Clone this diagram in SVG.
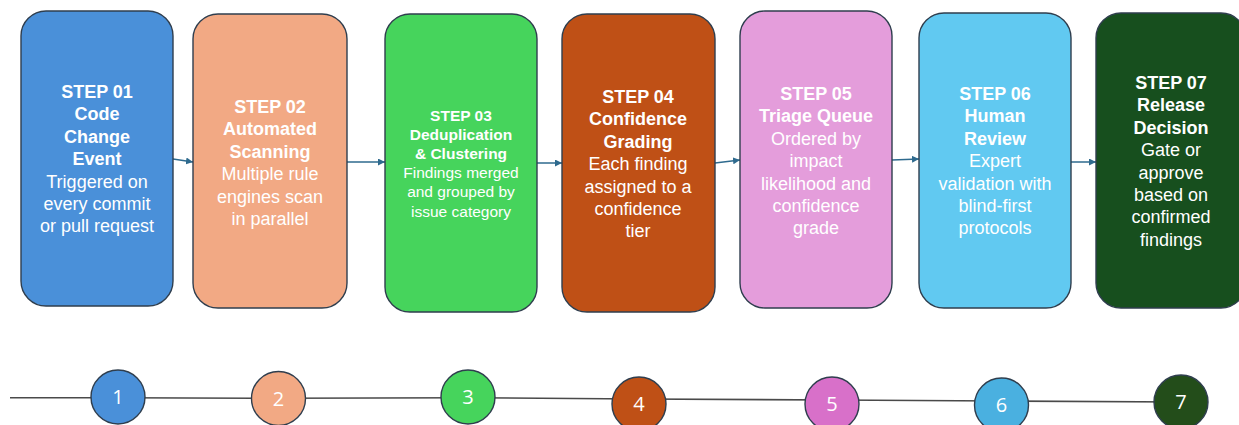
<svg xmlns="http://www.w3.org/2000/svg" width="1239" height="425" viewBox="0 0 1239 425">
<style>
.box{stroke:#2F3E4E;stroke-width:1.4}
.t{font-family:"Liberation Sans",Arial,sans-serif;font-size:18px;fill:#ffffff;text-anchor:middle}
.s{font-size:15.5px}
.b{font-weight:bold}
.conn{stroke:#2E6A8E;stroke-width:1.5;fill:none}
.tl{stroke:#4a4a4a;stroke-width:1.6;fill:none}
.c{stroke:#2F3E4E;stroke-width:1.4}
.n{font-family:"Open Sans","Liberation Sans",sans-serif;font-size:20px;fill:#ffffff;text-anchor:middle}
</style>
<defs>
<marker id="ah" viewBox="0 0 10 10" refX="10" refY="5" markerWidth="7" markerHeight="7" markerUnits="userSpaceOnUse" orient="auto">
<path d="M0,0 L10,5 L0,10 z" fill="#2E6A8E"/>
</marker>
</defs>
<rect width="1239" height="425" fill="#ffffff"/>

<g id="connectors">
<line class="conn" x1="173" y1="159" x2="193" y2="162" marker-end="url(#ah)"/>
<line class="conn" x1="347" y1="162" x2="385" y2="162" marker-end="url(#ah)"/>
<line class="conn" x1="537" y1="163" x2="562" y2="163" marker-end="url(#ah)"/>
<line class="conn" x1="715" y1="163" x2="740" y2="160" marker-end="url(#ah)"/>
<line class="conn" x1="892" y1="160" x2="919" y2="159" marker-end="url(#ah)"/>
<line class="conn" x1="1071" y1="162" x2="1096" y2="162" marker-end="url(#ah)"/>
</g>

<g id="step1">
<rect class="box" x="21" y="11" width="152" height="295" rx="25" fill="#4A90D9"/>
<text class="t" x="97" y="98"><tspan class="b" x="97">STEP 01</tspan><tspan class="b" x="97" dy="22.4">Code</tspan><tspan class="b" x="97" dy="22.4">Change</tspan><tspan class="b" x="97" dy="22.4">Event</tspan><tspan x="97" dy="22.4">Triggered on</tspan><tspan x="97" dy="22.4">every commit</tspan><tspan x="97" dy="22.4">or pull request</tspan></text>
</g>

<g id="step2">
<rect class="box" x="193" y="14" width="154" height="294" rx="25" fill="#F2A984"/>
<text class="t" x="270" y="113"><tspan class="b" x="270">STEP 02</tspan><tspan class="b" x="270" dy="22.4">Automated</tspan><tspan class="b" x="270" dy="22.4">Scanning</tspan><tspan x="270" dy="22.4">Multiple rule</tspan><tspan x="270" dy="22.4">engines scan</tspan><tspan x="270" dy="22.4">in parallel</tspan></text>
</g>

<g id="step3">
<rect class="box" x="385" y="14" width="152" height="298" rx="25" fill="#46D45C"/>
<text class="t s" x="461" y="120.5"><tspan class="b" x="461">STEP 03</tspan><tspan class="b" x="461" dy="19.2">Deduplication</tspan><tspan class="b" x="461" dy="19.2">&amp; Clustering</tspan><tspan x="461" dy="19.2">Findings merged</tspan><tspan x="461" dy="19.2">and grouped by</tspan><tspan x="461" dy="19.2">issue category</tspan></text>
</g>

<g id="step4">
<rect class="box" x="562" y="14" width="153" height="298" rx="25" fill="#BF5016"/>
<text class="t" x="638" y="103"><tspan class="b" x="638">STEP 04</tspan><tspan class="b" x="638" dy="22.4">Confidence</tspan><tspan class="b" x="638" dy="22.4">Grading</tspan><tspan x="638" dy="22.4">Each finding</tspan><tspan x="638" dy="22.4">assigned to a</tspan><tspan x="638" dy="22.4">confidence</tspan><tspan x="638" dy="22.4">tier</tspan></text>
</g>

<g id="step5">
<rect class="box" x="740" y="11" width="152" height="297" rx="25" fill="#E49DDB"/>
<text class="t" x="816" y="100"><tspan class="b" x="816">STEP 05</tspan><tspan class="b" x="816" dy="22.4">Triage Queue</tspan><tspan x="816" dy="22.4">Ordered by</tspan><tspan x="816" dy="22.4">impact</tspan><tspan x="816" dy="22.4">likelihood and</tspan><tspan x="816" dy="22.4">confidence</tspan><tspan x="816" dy="22.4">grade</tspan></text>
</g>

<g id="step6">
<rect class="box" x="919" y="13" width="152" height="295" rx="25" fill="#61C9F1"/>
<text class="t" x="995" y="100"><tspan class="b" x="995">STEP 06</tspan><tspan class="b" x="995" dy="22.4">Human</tspan><tspan class="b" x="995" dy="22.4">Review</tspan><tspan x="995" dy="22.4">Expert</tspan><tspan x="995" dy="22.4">validation with</tspan><tspan x="995" dy="22.4">blind-first</tspan><tspan x="995" dy="22.4">protocols</tspan></text>
</g>

<g id="step7">
<rect class="box" x="1096" y="13" width="150" height="295" rx="25" fill="#174F1E"/>
<text class="t" x="1171" y="89"><tspan class="b" x="1171">STEP 07</tspan><tspan class="b" x="1171" dy="22.4">Release</tspan><tspan class="b" x="1171" dy="22.4">Decision</tspan><tspan x="1171" dy="22.4">Gate or</tspan><tspan x="1171" dy="22.4">approve</tspan><tspan x="1171" dy="22.4">based on</tspan><tspan x="1171" dy="22.4">confirmed</tspan><tspan x="1171" dy="22.4">findings</tspan></text>
</g>

<g id="timeline">
<polyline class="tl" points="10,397.7 118,397.7 278,398.3 468,397.7 639,399 832,400 1001,401 1181,402"/>
</g>

<g id="marker1"><circle class="c" cx="118" cy="397" r="27" fill="#4A90D9"/><text class="n" x="118" y="404">1</text></g>
<g id="marker2"><circle class="c" cx="278.5" cy="398.5" r="27" fill="#F2A984"/><text class="n" x="278.5" y="405.5">2</text></g>
<g id="marker3"><circle class="c" cx="468" cy="397" r="27" fill="#46D45C"/><text class="n" x="468" y="404">3</text></g>
<g id="marker4"><circle class="c" cx="639" cy="404" r="27" fill="#BF5016"/><text class="n" x="639" y="411">4</text></g>
<g id="marker5"><circle class="c" cx="832" cy="404" r="27" fill="#D870C9"/><text class="n" x="832" y="411">5</text></g>
<g id="marker6"><circle class="c" cx="1001.5" cy="405" r="27" fill="#4AB0E0"/><text class="n" x="1001.5" y="412">6</text></g>
<g id="marker7"><circle class="c" cx="1181" cy="402" r="27" fill="#234D1A"/><text class="n" x="1181" y="409">7</text></g>
</svg>
